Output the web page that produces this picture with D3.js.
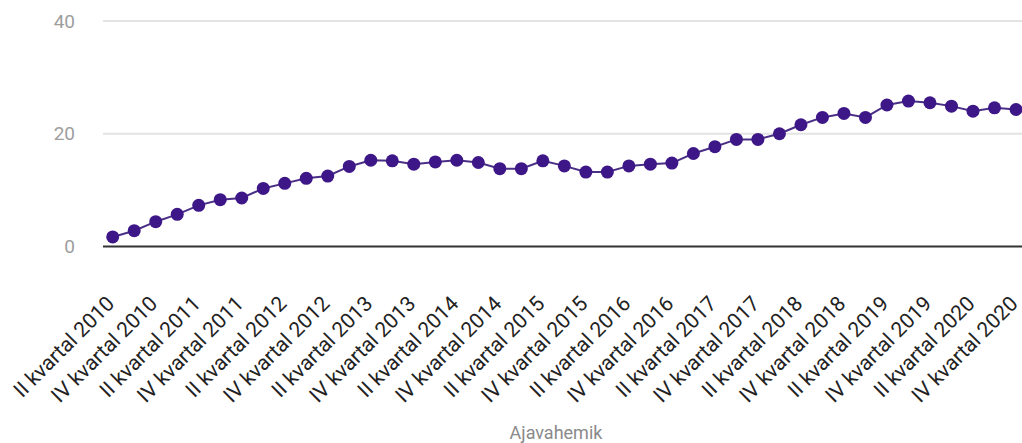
<!DOCTYPE html>
<html>
<head>
<meta charset="utf-8">
<script src="https://cdn.jsdelivr.net/npm/d3@7/dist/d3.min.js"></script>
<style>
  html, body { margin: 0; padding: 0; background: #fff; }
  svg { display: block; font-family: Roboto, "Noto Sans", sans-serif; }
</style>
</head>
<body>
<svg id="chart" width="1022" height="443"></svg>
<script>
// Quarter periods, II kvartal 2010 .. IV kvartal 2020
const romans = ["I", "II", "III", "IV"];
const periods = [];
for (let y = 2010; y <= 2020; y++) {
  for (let q = 0; q < 4; q++) {
    if (y === 2010 && q === 0) continue;
    periods.push(romans[q] + " kvartal " + y);
  }
}

const values = [
  1.7, 2.8, 4.4, 5.7, 7.3, 8.3, 8.6, 10.3, 11.2, 12.1, 12.5,
  14.2, 15.3, 15.2, 14.6, 15.0, 15.3, 14.9, 13.8, 13.8, 15.2,
  14.3, 13.2, 13.2, 14.3, 14.6, 14.8, 16.5, 17.7, 19.0, 19.0,
  20.0, 21.6, 22.9, 23.6, 22.9, 25.1, 25.8, 25.5, 24.9, 24.0,
  24.6, 24.3
];

const yTicks = [0, 20, 40];
const xTickLabels = periods.filter((p, i) => i % 2 === 0);
const xTitle = "Ajavahemik";

const svg = d3.select("#chart");
const W = 1022;

const x = d3.scalePoint().domain(periods).range([112.7, 1016]);
const y = d3.scaleLinear().domain([0, 40]).range([246.5, 21]);

// Horizontal gridlines
svg.append("g")
  .selectAll("line")
  .data(yTicks.filter(t => t !== 0))
  .join("line")
  .attr("x1", 103).attr("x2", W)
  .attr("y1", d => y(d)).attr("y2", d => y(d))
  .attr("stroke", "#e3e3e3").attr("stroke-width", 2);

// Y axis labels
const yAxis = d3.axisLeft(y).tickValues(yTicks).tickSize(0).tickPadding(0);
svg.append("g")
  .attr("transform", "translate(75,0)")
  .call(yAxis)
  .call(g => g.select(".domain").remove())
  .call(g => g.selectAll("text")
    .attr("fill", "#9e9e9e")
    .attr("font-size", 19)
    .attr("font-family", "Roboto, sans-serif"));

// Zero baseline
svg.append("line")
  .attr("x1", 103).attr("x2", W)
  .attr("y1", y(0)).attr("y2", y(0))
  .attr("stroke", "#333").attr("stroke-width", 2);

// X axis with rotated quarter labels
const xAxis = d3.axisBottom(x).tickValues(xTickLabels).tickSize(0).tickPadding(0);
svg.append("g")
  .attr("transform", "translate(0,305)")
  .call(xAxis)
  .call(g => g.select(".domain").remove())
  .call(g => g.selectAll(".tick").attr("transform", d => `translate(${x(d) + 3},0)`))
  .call(g => g.selectAll("text")
    .attr("fill", "#222")
    .attr("font-size", 21)
    .attr("font-family", "Roboto, sans-serif")
    .attr("text-anchor", "end")
    .attr("y", 0)
    .attr("dy", 0)
    .attr("transform", "rotate(-45)"));

// X axis title
svg.append("text")
  .attr("x", 556).attr("y", 439)
  .attr("text-anchor", "middle")
  .attr("fill", "#8a8a8a")
  .attr("font-size", 18)
  .attr("font-family", "Roboto, sans-serif")
  .text(xTitle);

// Series line
const line = d3.line()
  .x((d, i) => x(periods[i]))
  .y(d => y(d));

svg.append("path")
  .datum(values)
  .attr("fill", "none")
  .attr("stroke", "#4b2f86")
  .attr("stroke-width", 2)
  .attr("d", line);

// Series points
svg.append("g")
  .selectAll("circle")
  .data(values)
  .join("circle")
  .attr("cx", (d, i) => x(periods[i]))
  .attr("cy", d => y(d))
  .attr("r", 6.5)
  .attr("fill", "#3d1787");
</script>
</body>
</html>
